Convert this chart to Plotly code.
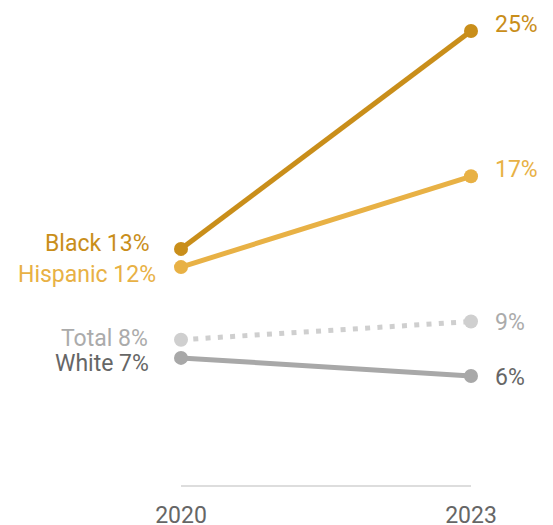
import plotly.graph_objects as go

years = [2020, 2023]
groups = ["Black", "Hispanic", "Total", "White"]
values = {
    "Black": [13, 25],
    "Hispanic": [12, 17],
    "Total": [8, 9],
    "White": [7, 6],
}
line_colors = {"Black": "#C98E1A", "Hispanic": "#E8B145", "Total": "#CFCFCF", "White": "#A8A8A8"}
label_colors = {"Black": "#C98E1A", "Hispanic": "#E8B145", "Total": "#ABABAB", "White": "#666666"}
dashes = {"Black": "solid", "Hispanic": "solid", "Total": "5px,7.3px", "White": "solid"}
# label nudges (pixels) to keep the labels apart
left_xshift = {"Black": -29, "Hispanic": -23, "Total": -31, "White": -30}
left_yshift = {"Black": 5, "Hispanic": -7, "Total": 1, "White": -6}
right_yshift = {"Black": 7, "Hispanic": 7, "Total": -1, "White": -1}

fig = go.Figure()
for g in groups:
    fig.add_trace(go.Scatter(
        x=years, y=values[g], mode="lines+markers",
        line=dict(color=line_colors[g], width=5, dash=dashes[g]),
        marker=dict(color=line_colors[g], size=14),
        cliponaxis=False, showlegend=False, hoverinfo="skip",
    ))
    fig.add_annotation(x=years[0], y=values[g][0], text=f"{g} {values[g][0]}%",
                       xanchor="right", yanchor="middle",
                       xshift=left_xshift[g], yshift=left_yshift[g], showarrow=False,
                       font=dict(size=23, color=label_colors[g], family="Roboto"))
    fig.add_annotation(x=years[1], y=values[g][1], text=f"{values[g][1]}%",
                       xanchor="left", yanchor="middle", xshift=22, yshift=right_yshift[g],
                       showarrow=False,
                       font=dict(size=23, color=label_colors[g], family="Roboto"))

fig.update_layout(
    width=545, height=517,
    margin=dict(l=173, r=82, t=23, b=40, autoexpand=False),
    paper_bgcolor="white", plot_bgcolor="white",
    font=dict(family="Roboto", color="#666666", size=23),
    xaxis=dict(range=[2020, 2023], tickvals=years, ticktext=[str(y) for y in years],
               showgrid=False, zeroline=False, showline=True, linecolor="#DDDDDD", linewidth=2,
               ticks="outside", ticklen=8, tickcolor="rgba(0,0,0,0)", automargin=False,
               tickfont=dict(size=23, color="#666666")),
    yaxis=dict(range=[0, 25], visible=False, showgrid=False, zeroline=False, automargin=False),
)
fig.write_html("out.html")
